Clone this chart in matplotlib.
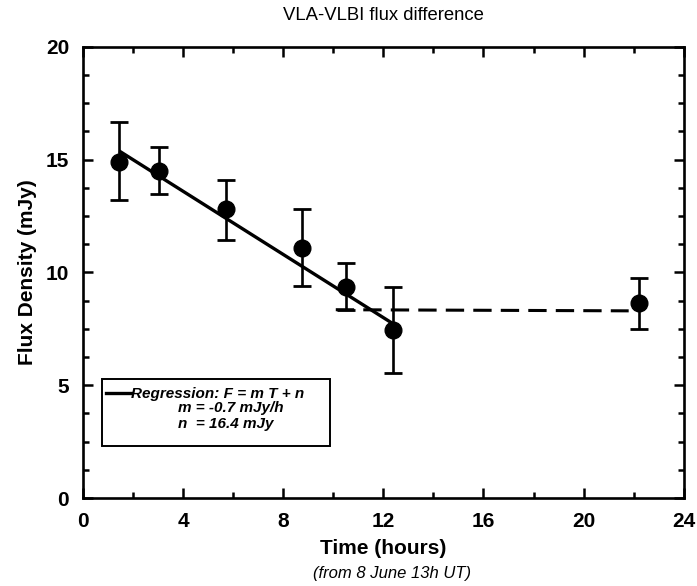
import numpy as np
import matplotlib
matplotlib.use('Agg')
import matplotlib.pyplot as plt
from matplotlib.patches import Rectangle
from matplotlib.ticker import MultipleLocator

plt.rcParams['font.family'] = ['Liberation Sans', 'DejaVu Sans']

# data
time_h = [1.45, 3.05, 5.7, 8.75, 10.5, 12.4, 22.2]
flux = [14.9, 14.5, 12.8, 11.1, 9.35, 7.45, 8.65]
err_up = [1.75, 1.05, 1.3, 1.7, 1.05, 1.9, 1.1]
err_lo = [1.7, 1.0, 1.35, 1.7, 1.0, 1.9, 1.15]

# regression F = m T + n
slope_m = -0.7
intercept_n = 16.4
reg_t = [1.45, 12.4]

# dashed level after the fit
level_t = [10.1, 21.8]
level_f = [8.35, 8.3]

fig = plt.figure(figsize=(6.97, 5.86), dpi=100)
ax = fig.add_axes([0.119, 0.150, 0.862, 0.770])

reg_f = [intercept_n + slope_m * t for t in reg_t]
ax.plot(reg_t, reg_f, color='black', lw=2.4, solid_capstyle='butt', zorder=3)
ax.plot(level_t, level_f, color='black', lw=2.2, dashes=(6, 3), zorder=3)

ax.errorbar(time_h, flux, yerr=[err_lo, err_up], fmt='o', color='black',
            ms=12, elinewidth=1.9, capsize=6.8, capthick=2.0, zorder=4)

ax.set_xlim(0, 24)
ax.set_ylim(0, 20)
ax.xaxis.set_major_locator(MultipleLocator(4))
ax.xaxis.set_minor_locator(MultipleLocator(2))
ax.yaxis.set_major_locator(MultipleLocator(5))
ax.yaxis.set_minor_locator(MultipleLocator(1.25))
ax.tick_params(which='both', direction='in', top=True, right=True, width=1.8)
ax.tick_params(which='major', length=7, labelsize=15)
ax.tick_params(axis='x', which='major', pad=10)
ax.tick_params(axis='y', which='major', pad=10)
ax.tick_params(which='minor', length=4)
for lab in ax.get_xticklabels() + ax.get_yticklabels():
    lab.set_fontweight('bold')
for sp in ax.spines.values():
    sp.set_linewidth(1.9)

ax.set_title('VLA-VLBI flux difference', fontsize=13.3, pad=19)
ax.set_ylabel('Flux Density (mJy)', fontsize=15, fontweight='bold', labelpad=6)
ax.set_xlabel('Time (hours)', fontsize=15, fontweight='bold', labelpad=6)
fig.text(0.563, 0.022, '(from 8 June 13h UT)', fontsize=12, style='italic',
         ha='center', va='center')

# legend box
ax.add_patch(Rectangle((0.032, 0.115), 0.38, 0.148, transform=ax.transAxes,
                       fill=False, lw=1.4, ec='black', zorder=5))
ax.plot([0.038, 0.08], [0.232, 0.232], transform=ax.transAxes,
        color='black', lw=2.4, zorder=5)
ax.text(0.08, 0.231, 'Regression: F = m T + n', transform=ax.transAxes,
        fontsize=11, style='italic', fontweight='bold', va='center')
ax.text(0.158, 0.199, 'm = -0.7 mJy/h', transform=ax.transAxes,
        fontsize=11, style='italic', fontweight='bold', va='center')
ax.text(0.158, 0.165, 'n  = 16.4 mJy', transform=ax.transAxes,
        fontsize=11, style='italic', fontweight='bold', va='center')

fig.savefig('out.png', dpi=100)
